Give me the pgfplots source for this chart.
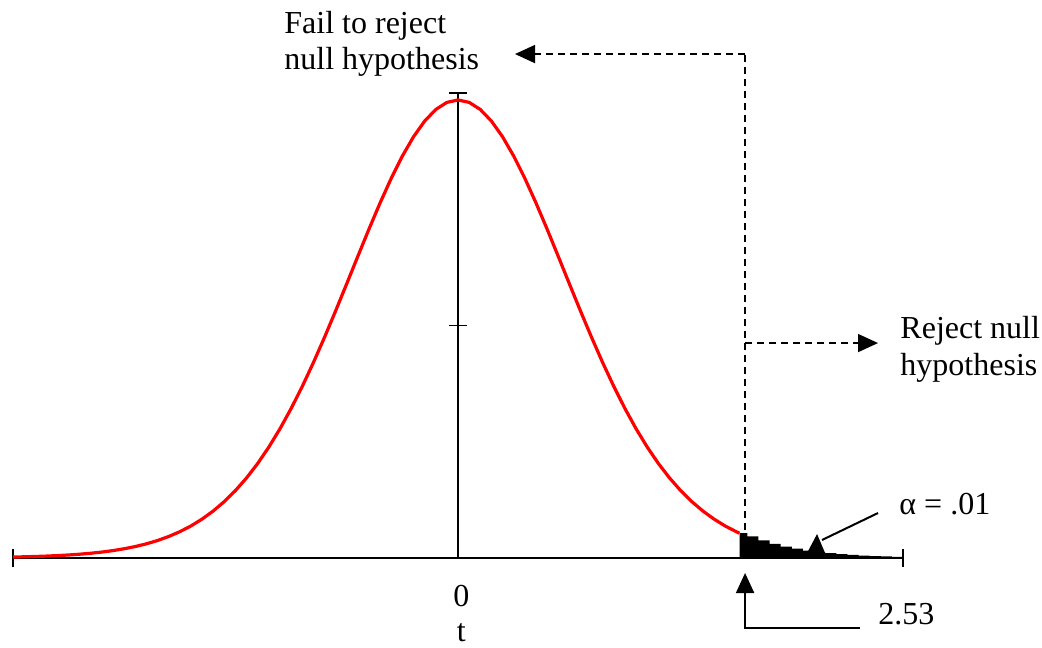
\documentclass[border=0pt]{standalone}
\usepackage{pgfplots}
\pgfplotsset{compat=1.18}
\usepackage{fontspec}
\setmainfont{Liberation Serif}
\usetikzlibrary{arrows.meta}

% Student t density, 20 degrees of freedom
\pgfplotstableread{
x y
-4.0 0.00082
-3.9 0.00104
-3.8 0.00131
-3.7 0.00165
-3.6 0.00208
-3.5 0.00261
-3.4 0.00328
-3.3 0.00410
-3.2 0.00513
-3.1 0.00640
-3.0 0.00797
-2.9 0.00990
-2.8 0.01222
-2.7 0.01507
-2.6 0.01852
-2.5 0.02267
-2.4 0.02760
-2.3 0.03353
-2.2 0.04048
-2.1 0.04862
-2.0 0.05809
-1.9 0.06899
-1.8 0.08143
-1.7 0.09550
-1.6 0.11123
-1.5 0.12863
-1.4 0.14763
-1.3 0.16809
-1.2 0.18986
-1.1 0.21263
-1.0 0.23604
-0.9 0.25968
-0.8 0.28304
-0.7 0.30557
-0.6 0.32669
-0.5 0.34581
-0.4 0.36237
-0.3 0.37585
-0.2 0.38581
-0.1 0.39193
0.0 0.39399
0.1 0.39193
0.2 0.38581
0.3 0.37585
0.4 0.36237
0.5 0.34581
0.6 0.32669
0.7 0.30557
0.8 0.28304
0.9 0.25968
1.0 0.23604
1.1 0.21263
1.2 0.18986
1.3 0.16809
1.4 0.14763
1.5 0.12863
1.6 0.11123
1.7 0.09550
1.8 0.08143
1.9 0.06899
2.0 0.05809
2.1 0.04862
2.2 0.04048
2.3 0.03353
2.4 0.02760
2.5 0.02267
2.53 0.02134
}\curve

% Upper tail beyond the critical value (alpha = .01)
\pgfplotstableread{
x y
2.53 0.02134
2.6 0.01852
2.7 0.01507
2.8 0.01222
2.9 0.00990
3.0 0.00797
3.1 0.00640
3.2 0.00513
3.3 0.00410
3.4 0.00328
3.5 0.00261
3.6 0.00208
3.7 0.00165
3.8 0.00131
3.9 0.00104
4.0 0.00082
}\tail

\begin{document}
\begin{tikzpicture}[
  lbl/.style={font=\fontsize{16}{18}\selectfont, inner sep=0pt},
  dsh/.style={black, line width=0.8pt, dash pattern=on 3.5pt off 2.5pt},
  tip/.style={-{Triangle[length=10pt,width=9pt]}}
]
\begin{axis}[
  scale only axis,
  width=445pt, height=232.5pt,
  xmin=-4, xmax=4, ymin=0, ymax=0.4,
  axis lines=middle,
  axis line style={-, black, line width=1.1pt},
  xtick={-4,0,4}, xticklabels={,,},
  ytick={0.2,0.4}, yticklabels={,},
  tick align=center,
  major tick length=9pt,
  tick style={black, line width=0.8pt},
  clip=false,
]
\addplot[fill=black, draw=none, const plot] table {\tail} \closedcycle;
\addplot[red, line width=1.6pt, line join=round] table {\curve};

% critical value guide and region arrows
\draw[dsh] (axis cs:2.58,0.0241) -- (axis cs:2.58,0.4335);
\draw[dsh, tip] (axis cs:2.58,0.4335) -- (axis cs:0.512,0.4335);
\draw[dsh, tip] (axis cs:2.58,0.1849) -- (axis cs:3.775,0.1849);

\node[lbl, anchor=base west] at (axis cs:-1.564,0.4516) {Fail to reject};
\node[lbl, anchor=base west] at (axis cs:-1.564,0.4198) {null hypothesis};
\node[lbl, anchor=base west] at (axis cs:3.973,0.1884) {Reject null};
\node[lbl, anchor=base west] at (axis cs:3.973,0.1566) {hypothesis};

% alpha callout
\draw[black, line width=1pt] (axis cs:3.775,0.0387) -- (axis cs:3.272,0.0155);
\fill[black] (axis cs:3.227,0.0206) -- (axis cs:3.137,0.0043) -- (axis cs:3.299,0.0043) -- cycle;
\node[lbl, anchor=base west] at (axis cs:3.964,0.0370) {α = .01};

% critical value callout
\draw[black, line width=1pt, tip] (axis cs:3.613,-0.0602) -- (axis cs:2.58,-0.0602) -- (axis cs:2.58,-0.0129);
\node[lbl, anchor=base west] at (axis cs:3.775,-0.0576) {2.53};

\node[lbl, anchor=base] at (axis cs:0.03,-0.0415) {0};
\node[lbl, anchor=base] at (axis cs:0.03,-0.0714) {t};

\coordinate (bbsw) at (axis cs:-4.117,-0.0774);
\coordinate (bbne) at (axis cs:5.249,0.4800);
\end{axis}
\pgfresetboundingbox
\path[use as bounding box] (bbsw) rectangle (bbne);
\end{tikzpicture}
\end{document}
